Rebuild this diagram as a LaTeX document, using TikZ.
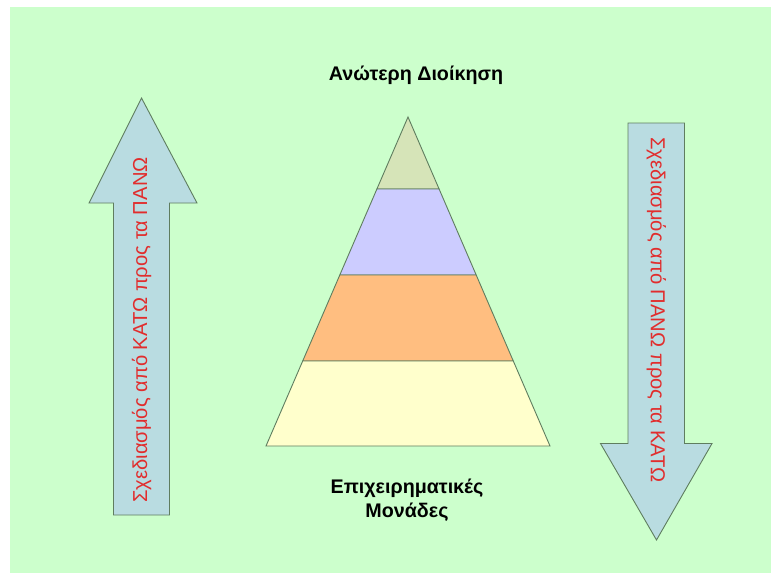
\documentclass[tikz,border=0pt]{standalone}
\usepackage{fontspec}
\setmainfont{Liberation Sans}
\definecolor{bggreen}{RGB}{204,255,204}
\definecolor{edgecol}{RGB}{95,125,95}
\definecolor{arrowfill}{RGB}{185,220,225}
\definecolor{lvlA}{RGB}{214,228,184}
\definecolor{lvlB}{RGB}{204,204,255}
\definecolor{lvlC}{RGB}{255,190,128}
\definecolor{lvlD}{RGB}{255,255,204}
\definecolor{redtext}{RGB}{225,45,45}
\tikzset{
  outline/.style={draw=edgecol, line width=0.9pt, line join=miter},
  sidetext/.style={text=redtext, font=\fontsize{20.2}{24}\selectfont, inner sep=0pt},
  headtext/.style={text=black, font=\fontsize{19.7}{24}\selectfont\bfseries, inner sep=0pt, align=center}
}
\begin{document}
\begin{tikzpicture}[x=1pt,y=-1pt]
\useasboundingbox (0,0) rectangle (771,574);
\fill[white] (0,0) rectangle (771,574);
\fill[bggreen] (10,7) rectangle (771,573);

% pyramid
\coordinate (apex) at (408,117);
\coordinate (l1) at (376.9,189); \coordinate (r1) at (439.1,189);
\coordinate (l2) at (339.8,275); \coordinate (r2) at (476.2,275);
\coordinate (l3) at (302.7,361); \coordinate (r3) at (513.3,361);
\coordinate (bl) at (266,446);   \coordinate (br) at (550,446);
\filldraw[outline, fill=lvlA] (apex) -- (r1) -- (l1) -- cycle;
\filldraw[outline, fill=lvlB] (l1) -- (r1) -- (r2) -- (l2) -- cycle;
\filldraw[outline, fill=lvlC] (l2) -- (r2) -- (r3) -- (l3) -- cycle;
\filldraw[outline, fill=lvlD] (l3) -- (r3) -- (br) -- (bl) -- cycle;

% left arrow (up)
\filldraw[outline, fill=arrowfill]
  (141.5,98) -- (197,203) -- (169.5,203) -- (169.5,515) -- (113.5,515)
  -- (113.5,203) -- (89,203) -- cycle;
\node[sidetext, rotate=90] (uptext) at (141.5,330) {Σχεδιασμός από ΚΑΤΩ προς τα ΠΑΝΩ};

% right arrow (down)
\filldraw[outline, fill=arrowfill]
  (628,123) -- (684.5,123) -- (684.5,443.5) -- (712,443.5) -- (656.5,540)
  -- (600.5,443.5) -- (628,443.5) -- cycle;
\node[sidetext, rotate=-90] (downtext) at (656.5,310) {Σχεδιασμός από ΠΑΝΩ προς τα ΚΑΤΩ};

% labels
\node[headtext] (top) at (416,75) {Ανώτερη Διοίκηση};
\node[headtext] (bottom) at (407,500) {Επιχειρηματικές\\Μονάδες};
\end{tikzpicture}
\end{document}
